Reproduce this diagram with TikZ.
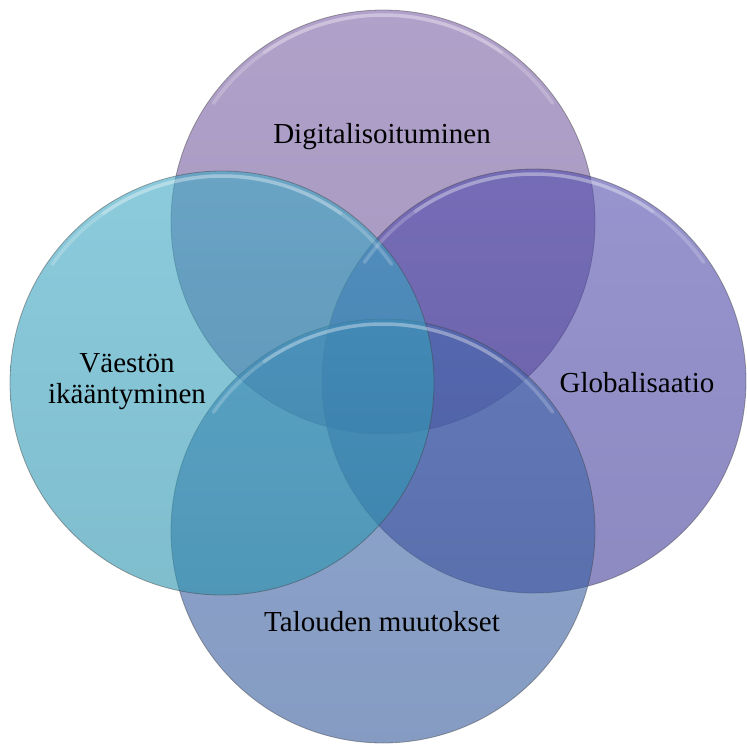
\documentclass[tikz,border=0pt]{standalone}
\usepackage{fontspec}
\setmainfont{Liberation Serif}
\definecolor{topA}{RGB}{123,98,166}
\definecolor{topB}{RGB}{107,82,148}
\definecolor{rightA}{RGB}{81,76,173}
\definecolor{rightB}{RGB}{65,60,153}
\definecolor{leftA}{RGB}{62,168,197}
\definecolor{leftB}{RGB}{42,146,173}
\definecolor{botA}{RGB}{68,105,172}
\definecolor{botB}{RGB}{52,89,154}
\tikzset{
  venn/.style={circle, minimum size=424pt, inner sep=0pt, fill opacity=0.6,
    draw=black!75, draw opacity=0.45, line width=0.8pt},
  gloss/.style={white, line width=3.5pt, opacity=0.2, line cap=round},
  lbl/.style={font=\fontsize{29}{31}\selectfont, text=black, align=center, inner sep=0pt}
}
\begin{document}
\begin{tikzpicture}[x=1pt,y=-1pt]
\useasboundingbox (0,0) rectangle (747,744);
\node[venn, top color=topA, bottom color=topB] (ctop) at (383,222) {};
\node[venn, top color=rightA, bottom color=rightB] (cright) at (534,381) {};
\node[venn, top color=botA, bottom color=botB] (cbot) at (383,531) {};
\node[venn, top color=leftA, bottom color=leftB] (cleft) at (222,383) {};
\foreach \c in {ctop,cright,cbot,cleft}{
  \draw[gloss] (\c.center) ++(35:207pt) arc[start angle=35, end angle=145, radius=207pt];
  \draw[gloss] (\c.center) ++(55:207pt) arc[start angle=55, end angle=125, radius=207pt];
}
\node[lbl] (ttop) at (382,137) {Digitalisoituminen};
\node[lbl] (tleft) at (127,382) {Väestön\\ikääntyminen};
\node[lbl] (tright) at (637,383) {Globalisaatio};
\node[lbl] (tbot) at (382,622) {Talouden muutokset};
\end{tikzpicture}
\end{document}
